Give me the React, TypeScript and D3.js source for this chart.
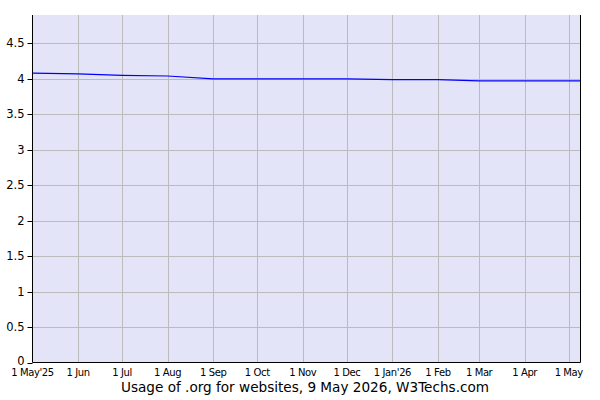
import React from "react";
import * as d3 from "d3";

const dates: string[] = [
  "2025-05-01", "2025-06-01", "2025-07-01", "2025-08-01", "2025-09-01",
  "2025-10-01", "2025-11-01", "2025-12-01", "2026-01-01", "2026-02-01",
  "2026-03-01", "2026-04-01", "2026-05-01", "2026-05-09",
];
const values: number[] = [
  4.08, 4.07, 4.05, 4.04, 4.0, 4.0, 4.0, 4.0, 3.99, 3.99, 3.97, 3.97, 3.97, 3.97,
];
const tickDates: string[] = [
  "2025-05-01", "2025-06-01", "2025-07-01", "2025-08-01", "2025-09-01",
  "2025-10-01", "2025-11-01", "2025-12-01", "2026-01-01", "2026-02-01",
  "2026-03-01", "2026-04-01", "2026-05-01",
];
const tickLabels: string[] = [
  "1 May'25", "1 Jun", "1 Jul", "1 Aug", "1 Sep", "1 Oct", "1 Nov", "1 Dec",
  "1 Jan'26", "1 Feb", "1 Mar", "1 Apr", "1 May",
];
const yTicks: number[] = [0, 0.5, 1, 1.5, 2, 2.5, 3, 3.5, 4, 4.5];
const title = "Usage of .org for websites, 9 May 2026, W3Techs.com";

export default function App() {
  const left = 32.5, right = 580.5, top = 15, bottom = 362.5;
  const parse = (s: string) => new Date(s + "T00:00:00Z");
  const x = d3.scaleUtc()
    .domain([parse("2025-05-01"), parse("2026-05-09")])
    .range([left, right]);
  const y = d3.scaleLinear().domain([0, 4.9]).range([bottom, top]);
  const pts = dates.map((d, i) => ({ d: parse(d), v: values[i] }));
  const line = d3.line<{ d: Date; v: number }>()
    .x((p) => x(p.d))
    .y((p) => y(p.v));
  const font = "Verdana, 'DejaVu Sans', sans-serif";
  return (
    <svg
      width={600}
      height={400}
      style={{ position: "fixed", top: 0, left: 0, background: "#fff" }}
      fontFamily={font}
    >
      <rect x={left} y={top} width={right - left} height={bottom - top} fill="#e4e4f8" />
      {yTicks.slice(1).map((t) => (
        <line key={"gy" + t} x1={left} x2={right} y1={Math.round(y(t)) + 0.5} y2={Math.round(y(t)) + 0.5} stroke="#bbbbbb" />
      ))}
      {tickDates.slice(1).map((t) => (
        <line key={"gx" + t} x1={Math.round(x(parse(t))) + 0.5} x2={Math.round(x(parse(t))) + 0.5} y1={top} y2={bottom} stroke="#bbbbbb" />
      ))}
      <path d={line(pts) || ""} fill="none" stroke="#0000ff" strokeWidth={1.2} />
      <line x1={left} x2={left} y1={top} y2={bottom} stroke="#000" />
      <line x1={right} x2={right} y1={top} y2={bottom} stroke="#000" />
      <line x1={left} x2={right} y1={bottom} y2={bottom} stroke="#000" />
      {yTicks.map((t) => (
        <g key={"ty" + t}>
          <line x1={left - 5} x2={left} y1={Math.round(y(t)) + 0.5} y2={Math.round(y(t)) + 0.5} stroke="#000" />
          <text x={left - 8} y={y(t) + (t === 0 ? 2.5 : 4)} textAnchor="end" fontSize={11.5} fill="#000">
            {String(t)}
          </text>
        </g>
      ))}
      {tickDates.map((t, i) => (
        <text key={"tx" + t} x={x(parse(t))} y={376} textAnchor="middle" fontSize={10} letterSpacing={-0.4} fill="#000">
          {tickLabels[i]}
        </text>
      ))}
      <text x={305} y={392} textAnchor="middle" fontSize={13.6} fill="#000">
        {title}
      </text>
    </svg>
  );
}
